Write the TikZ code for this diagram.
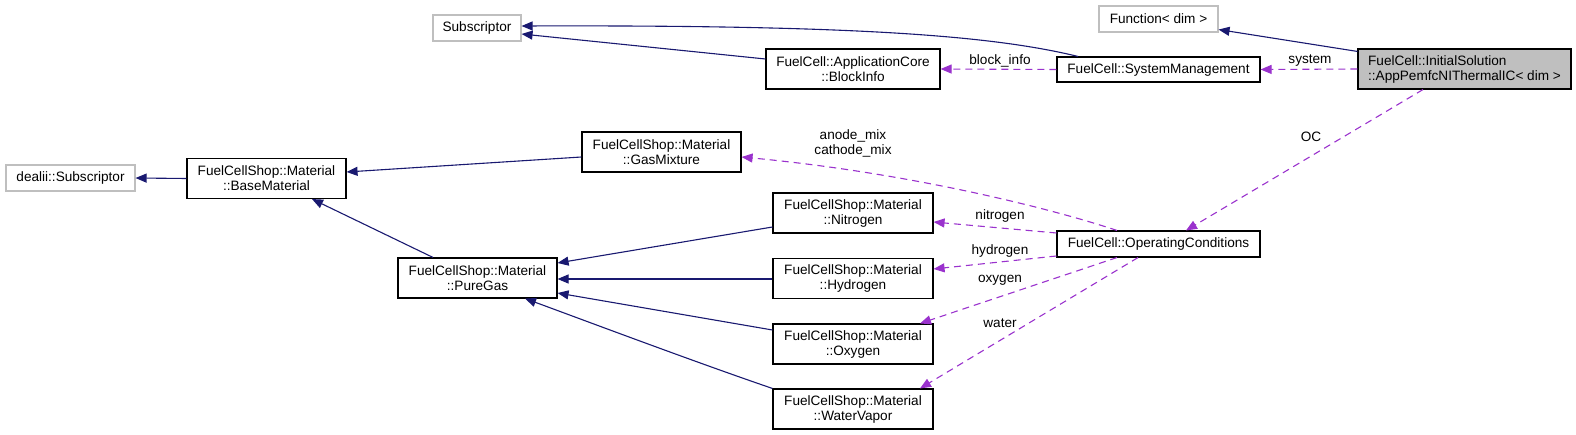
\documentclass[tikz,border=0pt]{standalone}
\usepackage{fontspec}
\setmainfont{Liberation Sans}
\usetikzlibrary{arrows.meta,calc}
\definecolor{inhcol}{HTML}{191970}
\definecolor{usecol}{HTML}{9A32CD}
\definecolor{graybd}{HTML}{BFBFBF}
\begin{document}
\begin{tikzpicture}[x=1pt,y=-1pt,
  every node/.style={font=\fontsize{13.6}{15}\selectfont},
  cls/.style={draw=black,line width=1.1pt,fill=white,inner sep=0pt,align=center},
  ext/.style={draw=graybd,line width=1.1pt,fill=white,inner sep=0pt,align=center},
  inh/.style={draw=inhcol,line width=1.1pt,-{Triangle[length=11pt,width=9pt]}},
  use/.style={draw=usecol,line width=1.1pt,dash pattern=on 7pt off 5pt,-{Triangle[length=11pt,width=9pt]}},
  lbl/.style={inner sep=0pt,align=center,fill=none}]
\useasboundingbox (0,0) rectangle (1576,435);
% nodes
\node[ext,minimum width=88pt,minimum height=26pt] (subs) at (477,28) {Subscriptor};
\node[ext,minimum width=119pt,minimum height=26pt] (func) at (1158.5,19) {Function< dim >};
\node[cls,fill=graybd,minimum width=213pt,minimum height=40pt,align=left] (app) at (1464.5,69) {FuelCell::InitialSolution\\::AppPemfcNIThermalIC< dim >};
\node[cls,minimum width=203pt,minimum height=25pt] (sysm) at (1158.5,69.5) {FuelCell::SystemManagement};
\node[cls,minimum width=174pt,minimum height=40pt] (block) at (853,69) {FuelCell::ApplicationCore\\::BlockInfo};
\node[cls,minimum width=159pt,minimum height=40pt] (gasmix) at (661.5,152) {FuelCellShop::Material\\::GasMixture};
\node[ext,minimum width=129pt,minimum height=26pt] (dealii) at (70.5,178) {dealii::Subscriptor};
\node[cls,minimum width=159pt,minimum height=40pt] (base) at (266.5,178.5) {FuelCellShop::Material\\::BaseMaterial};
\node[cls,minimum width=159pt,minimum height=40pt] (pure) at (477.5,278) {FuelCellShop::Material\\::PureGas};
\node[cls,minimum width=160pt,minimum height=40pt] (nitro) at (853,213) {FuelCellShop::Material\\::Nitrogen};
\node[cls,minimum width=160pt,minimum height=40pt] (hydro) at (853,278.5) {FuelCellShop::Material\\::Hydrogen};
\node[cls,minimum width=160pt,minimum height=40pt] (oxy) at (853,344) {FuelCellShop::Material\\::Oxygen};
\node[cls,minimum width=160pt,minimum height=40pt] (water) at (853,409) {FuelCellShop::Material\\::WaterVapor};
\node[cls,minimum width=203pt,minimum height=26pt] (opc) at (1158.5,244) {FuelCell::OperatingConditions};
% inheritance
\draw[inh] (base.west) -- (dealii.east);
\draw[inh] ($(gasmix.west)+(0,5)$) -- ($(base.east)+(0,-6.5)$);
\draw[inh] ($(pure.north)+(-44.5,0)$) -- ($(base.south)+(45.5,0)$);
\draw[inh] ($(nitro.west)+(0,14)$) -- ($(pure.east)+(0,-15)$);
\draw[inh] ($(hydro.west)+(0,0.5)$) -- ($(pure.east)+(0,1)$);
\draw[inh] ($(oxy.west)+(0,-14)$) -- ($(pure.east)+(0,15)$);
\draw[inh] (water.north west) .. controls (695,362) and (578,318) .. ($(pure.south)+(47.5,0)$);
\draw[inh] ($(block.west)+(0,-10)$) -- ($(subs.east)+(0,6)$);
\draw[inh] ($(sysm.north)+(-80.5,0)$) .. controls (990,35) and (850,25) .. ($(subs.east)+(0,-2)$);
\draw[inh] ($(app.north west)+(0,3)$) -- ($(func.south east)+(0,-3)$);
% usage
\draw[use] (app.west) -- (sysm.east);
\node[lbl] (lsys) at (1310,61) {system};
\draw[use] (sysm.west) -- (block.east);
\node[lbl] (lblk) at (1000,61) {block\_info};
\draw[use] ($(app.south)+(-41.5,0)$) -- ($(opc.north)+(27.5,0)$);
\node[lbl] (loc) at (1311,137) {OC};
\draw[use] ($(opc.north)+(-41.5,0)$) .. controls (1040,205) and (900,172) .. ($(gasmix.east)+(0,5)$);
\node[lbl] (lmix) at (853,143.5) {anode\_mix\\cathode\_mix};
\draw[use] ($(opc.west)+(0,-11)$) -- ($(nitro.east)+(0,9)$);
\node[lbl] (lnit) at (1000,216) {nitrogen};
\draw[use] ($(opc.west)+(0,12)$) -- ($(hydro.east)+(0,-9.5)$);
\node[lbl] (lhyd) at (1000,251) {hydrogen};
\draw[use] ($(opc.south)+(-41.5,0)$) -- ($(oxy.north)+(67,0)$);
\node[lbl] (loxy) at (1000,280) {oxygen};
\draw[use] ($(opc.south)+(-20.5,0)$) -- ($(water.north)+(67,0)$);
\node[lbl] (lwat) at (1000,323) {water};
\end{tikzpicture}
\end{document}
